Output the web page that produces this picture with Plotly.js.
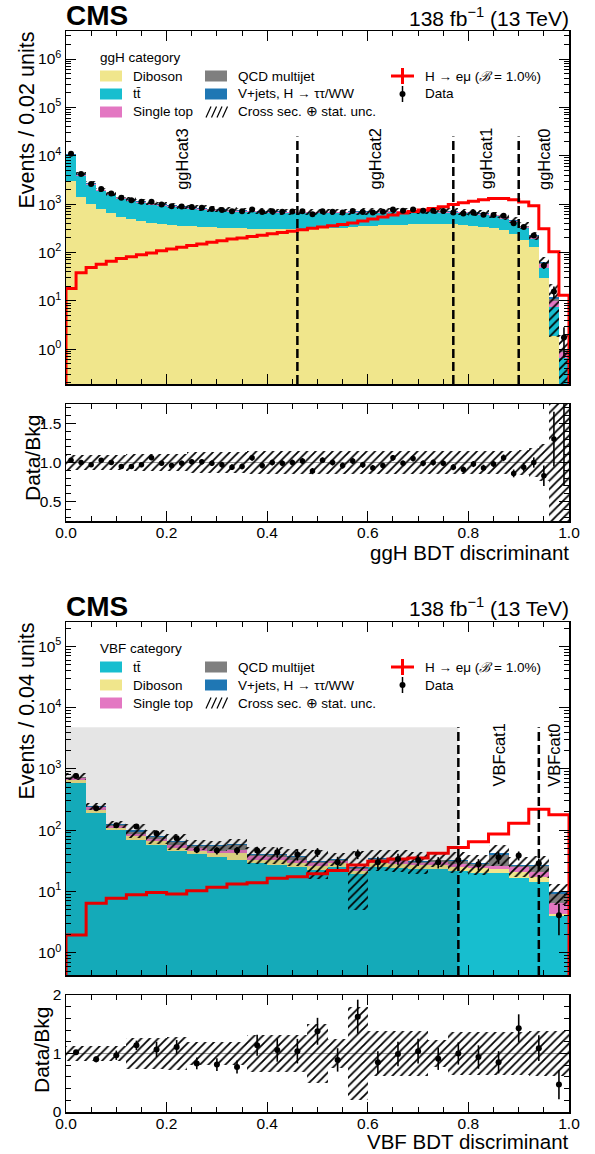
<!DOCTYPE html>
<html><head><meta charset="utf-8">
<script src="https://cdn.plot.ly/plotly-3.0.1.min.js"></script>
<style>html,body{margin:0;padding:0;background:#fff}#chart{width:595px;height:1154px}</style>
</head><body><div id="chart"></div>
<script>
// ---------------- ggH category (50 bins of 0.02) ----------------
const ggH_diboson = [3000,1420,985,780,640,550,490,450,415,395,375,360,350,340,332,326,320,316,313,310,308,307,306,306,310,314,320,327,335,345,355,362,370,378,385,388,390,387,380,372,360,342,320,290,240,180,128,29,1.9,0.05];
const ggH_ttbar = [6900,2450,1495,1056,875,754,667,607,559,515,488,467,440,423,404,391,379,369,359,353,347,341,338,334,330,326,320,317,314,309,306,306,303,299,292,289,282,280,278,272,265,255,240,208,187,141,65,19,5.5,0.6];
const ggH_singletop = [430,180,120,90,75,65,58,52,48,45,43,41,39,38,36,35,34,34,33,32,32,32,31,31,31,31,31,31,31,31,32,32,32,32,32,32,32,32,31,31,30,29,28,26,24,22,18,9,2.6,0.24];
const ggH_qcd = [110,45,30,22,18,15,13,12,11,10,10,9,9,8,8,8,8,7,7,7,7,7,7,7,7,7,7,7,7,7,7,7,7,7,7,7,7,7,7,7,7,7,6,6,5,5,4,3,0.8,0.05];
const ggH_vjets = [260,105,70,52,42,36,32,29,27,25,24,23,22,21,20,20,19,19,18,18,18,18,18,17,17,17,17,18,18,18,18,18,18,19,19,19,19,19,19,18,18,17,16,15,14,12,10,5,1.2,0.06];
const ggH_data = [11020,4200,2620,2060,1650,1350,1200,1115,1125,980,900,890,870,840,790,757,715,708,774,691,712,698,700,709,619,716,695,672,719,689,668,696,774,728,772,728,730,718,672,637,666,605,598,578,404,338,225,54,15.6,1.75];
const ggH_signal = [18,38,49,57,66,75,82,90,98,108,118,128,139,150,163,174,189,200,213,228,244,259,276,295,315,335,355,380,405,445,490,540,595,655,705,760,815,885,985,1070,1150,1230,1300,1310,1230,1100,925,310,103,13];
const ggH_unc = [0.09,0.09,0.09,0.09,0.09,0.09,0.11,0.11,0.11,0.11,0.11,0.11,0.13,0.13,0.13,0.13,0.13,0.13,0.145,0.145,0.145,0.145,0.145,0.145,0.145,0.145,0.145,0.145,0.145,0.145,0.145,0.145,0.145,0.145,0.145,0.145,0.145,0.145,0.145,0.145,0.145,0.145,0.145,0.145,0.15,0.16,0.18,0.24,0.85,0.95];
const ggH_ratio = [1.03,1.00,0.97,1.03,1.00,0.95,0.95,0.97,1.06,0.99,0.96,0.99,1.01,1.01,0.99,0.97,0.94,0.95,1.06,0.96,1.00,0.99,1.00,1.02,0.89,1.03,1.00,0.96,1.02,0.97,0.93,0.96,1.06,0.99,1.05,0.99,1.00,0.99,0.94,0.91,0.98,0.93,0.98,1.06,0.86,0.94,1.00,0.83,1.30,1.85];
const ggH_ratioErr = [0.01,0.016,0.02,0.022,0.025,0.027,0.029,0.03,0.03,0.032,0.033,0.034,0.034,0.035,0.036,0.036,0.037,0.037,0.036,0.038,0.037,0.038,0.038,0.038,0.04,0.037,0.038,0.039,0.037,0.038,0.039,0.038,0.036,0.037,0.036,0.037,0.037,0.037,0.039,0.04,0.039,0.041,0.041,0.043,0.05,0.055,0.066,0.13,0.35,1.15];
const ggH_boundaries = [0.46,0.77,0.90];
const ggH_catLabels = ['ggHcat3','ggHcat2','ggHcat1','ggHcat0'];

// ---------------- VBF category (25 bins of 0.04) ----------------
const VBF_ttbar = [580,189,99,70,57,46,41,36,33,28.6,27.5,25,22,25,19,25,24.5,23,23,21.5,20,20,16.5,14.5,3.9];
const VBF_diboson = [80,26,9,9,9,5,5,6.5,9.5,4.4,5,3.6,4,4,2.5,4,4,4,4.5,4,4,3.5,4.5,3,0.3];
const VBF_singletop = [60,20,10,8,7,7,5,4,5.5,4.6,4,3.4,3,2.5,2,2.5,3,2.5,2.5,3,2.5,2.5,4.5,3.5,2.2];
const VBF_qcd = [10,5,3,8,5,7,5,8,10,2,3,4,1.5,1.5,1,2.5,1.5,1,2,2.5,1.5,14,1,5.5,2.8];
const VBF_vjets = [20,10,3,5,2,2,2,2.5,2,1.4,1.5,2,1,1,0.5,1,1,1,1,1,1,2,0.5,0.5,0.5];
const VBF_data = [767,228,120,115,88,74,48,46.5,46.5,46.5,43.6,40,43.7,30,41,30,34,32.7,30,32.7,27.8,36,38.5,28.8,4.1];
const VBF_signal = [1.95,6.4,7.7,8.8,9.6,9.1,10.3,11.7,13.2,13.9,16.4,17.4,19.5,22,27,31,34,35,42,52,65,87,130,220,178];
const VBF_unc = [0.13,0.13,0.13,0.26,0.26,0.29,0.19,0.19,0.19,0.31,0.31,0.31,0.5,0.24,0.8,0.38,0.38,0.38,0.23,0.37,0.37,0.37,0.37,0.38,0.38];
const VBF_ratio = [1.02,0.90,0.97,1.14,1.07,1.11,0.83,0.81,0.77,1.14,1.06,1.04,1.38,0.89,1.63,0.85,0.99,1.04,0.91,1.00,0.94,0.85,1.43,1.09,0.47];
const VBF_ratioErr = [0.04,0.05,0.08,0.08,0.13,0.12,0.1,0.11,0.11,0.18,0.2,0.21,0.23,0.2,0.29,0.19,0.21,0.21,0.19,0.19,0.2,0.19,0.24,0.22,0.25];
const VBF_boundaries = [0.78,0.94];
const VBF_catLabels = ['VBFcat1','VBFcat0'];

// ---------------- helpers ----------------
const W = 595, H = 1154;
const FONT = 'Liberation Sans, Arial, Helvetica, sans-serif';
const C = {diboson:'#F0E68C', ttbar:'#17BECF', singletop:'#E377C2', qcd:'#7F7F7F', vjets:'#1F77B4'};
const px = x => x / W;
const py = y => 1 - y / H;
const centers = (n, w) => Array.from({length:n}, (_, i) => +(w * (i + 0.5)).toFixed(4));
const lows = (n, w) => Array.from({length:n}, (_, i) => +(w * i).toFixed(4));
const sum = (...a) => a[0].map((_, i) => a.reduce((s, arr) => s + arr[i], 0));

const traces = [];
const shapes = [];
const annotations = [];

function stack(xa, ya, xs, w, layersBottomFirst) {
  const cums = [];
  let run = null;
  layersBottomFirst.forEach(l => { run = run ? sum(run, l.v) : l.v.slice(); cums.push({y: run.slice(), color: l.color}); });
  for (let k = cums.length - 1; k >= 0; k--) {
    traces.push({type:'bar', x:xs, y:cums[k].y, width:w, xaxis:xa, yaxis:ya,
      marker:{color:cums[k].color, line:{width:0}}, hoverinfo:'skip'});
  }
  return run;
}
function hatch(xa, ya, xs, w, center, unc) {
  traces.push({type:'bar', x:xs, width:w, xaxis:xa, yaxis:ya,
    base:center.map((c, i) => c * (1 - unc[i])), y:center.map((c, i) => 2 * c * unc[i]),
    marker:{color:'rgba(0,0,0,0)', line:{width:0},
      pattern:{shape:'/', fgcolor:'#000', fgopacity:1, bgcolor:'rgba(0,0,0,0)', size:6, solidity:0.3, fillmode:'overlay'}},
    hoverinfo:'skip'});
}
function signal(xa, ya, n, w, vals, floor) {
  const lo = lows(n, w);
  const xs = [lo[0]].concat(lo, [+(lo[n - 1] + w).toFixed(4)]);
  const ys = [floor].concat(vals, [floor]);
  traces.push({type:'scatter', mode:'lines', x:xs, y:ys, xaxis:xa, yaxis:ya,
    line:{color:'#FF0000', width:3, shape:'hv'}, hoverinfo:'skip'});
}
function points(xa, ya, xs, ys, err, size) {
  traces.push({type:'scatter', mode:'markers', x:xs, y:ys, xaxis:xa, yaxis:ya,
    marker:{color:'#000', size:size},
    error_y:{type:'data', array:err, visible:true, color:'#000', thickness:1.6, width:0}, hoverinfo:'skip'});
}

// ---------------- panel 1 ----------------
const n1 = 50, w1 = 0.02, x1 = centers(n1, w1);
const Y1 = [-0.72, 6.58];
const tot1 = stack('x', 'y', x1, w1, [
  {v:ggH_diboson, color:C.diboson}, {v:ggH_ttbar, color:C.ttbar}, {v:ggH_singletop, color:C.singletop},
  {v:ggH_qcd, color:C.qcd}, {v:ggH_vjets, color:C.vjets}]);
hatch('x', 'y', x1, w1, tot1, ggH_unc);
signal('x', 'y', n1, w1, ggH_signal, Math.pow(10, Y1[0] - 1));
points('x', 'y', x1, ggH_data, ggH_data.map((d, i) => d * ggH_ratioErr[i] / ggH_ratio[i]), 6);
hatch('x2', 'y2', x1, w1, x1.map(() => 1), ggH_unc);
points('x2', 'y2', x1, ggH_ratio, ggH_ratioErr, 5.5);

// ---------------- panel 2 ----------------
const n2 = 25, w2 = 0.04, x2 = centers(n2, w2);
const Y3 = [-0.365, 5.40];
const tot2 = stack('x3', 'y3', x2, w2, [
  {v:VBF_ttbar, color:C.ttbar}, {v:VBF_diboson, color:C.diboson}, {v:VBF_singletop, color:C.singletop},
  {v:VBF_qcd, color:C.qcd}, {v:VBF_vjets, color:C.vjets}]);
hatch('x3', 'y3', x2, w2, tot2, VBF_unc);
signal('x3', 'y3', n2, w2, VBF_signal, Math.pow(10, Y3[0] - 1));
points('x3', 'y3', x2, VBF_data, VBF_data.map((d, i) => d * VBF_ratioErr[i] / VBF_ratio[i]), 6);
hatch('x4', 'y4', x2, w2, x2.map(() => 1), VBF_unc);
points('x4', 'y4', x2, VBF_ratio, VBF_ratioErr, 6);

// ---------------- decorations ----------------
shapes.push({type:'rect', xref:'x3', yref:'y3', x0:0, x1:VBF_boundaries[0], y0:Math.pow(10, Y3[0]), y1:4800,
  fillcolor:'rgba(0,0,0,0.1)', line:{width:0}, layer:'above'});
ggH_boundaries.forEach(b => shapes.push({type:'line', xref:'x', yref:'y', x0:b, x1:b, y0:Math.pow(10, Y1[0]), y1:25000,
  line:{color:'#000', width:2.5, dash:'9px,4px'}, layer:'above'}));
VBF_boundaries.forEach(b => shapes.push({type:'line', xref:'x3', yref:'y3', x0:b, x1:b, y0:Math.pow(10, Y3[0]), y1:4800,
  line:{color:'#000', width:2.5, dash:'9px,4px'}, layer:'above'}));
[['x2','y2'],['x4','y4']].forEach(([xa, ya]) => shapes.push({type:'line', xref:xa, yref:ya, x0:0, x1:1, y0:1, y1:1,
  line:{color:'#999', width:1}, layer:'below'}));

const edges1 = [0].concat(ggH_boundaries, [1]);
ggH_catLabels.forEach((t, i) => annotations.push({xref:'x', yref:'y', x:(edges1[i] + edges1[i + 1]) / 2, y:3.93,
  text:t, textangle:-90, showarrow:false, font:{family:FONT, size:16.5, color:'#000'}, xanchor:'center', yanchor:'middle'}));
const edges2 = VBF_boundaries.concat([1]);
VBF_catLabels.forEach((t, i) => annotations.push({xref:'x3', yref:'y3', x:(edges2[i] + edges2[i + 1]) / 2, y:3.23,
  text:t, textangle:-90, showarrow:false, font:{family:FONT, size:16.5, color:'#000'}, xanchor:'center', yanchor:'middle'}));

function txt(t, x, y, size, xanchor, yanchor, angle) {
  annotations.push({xref:'paper', yref:'paper', x:px(x), y:py(y), text:t, showarrow:false,
    font:{family:FONT, size:size, color:'#000'}, xanchor:xanchor || 'left', yanchor:yanchor || 'middle',
    textangle:angle || 0, borderpad:0});
}
function rectPx(x0, y0, x1, y1, color) {
  shapes.push({type:'rect', xref:'paper', yref:'paper', x0:px(x0), x1:px(x1), y0:py(y1), y1:py(y0),
    fillcolor:color, line:{width:0}});
}
function linePx(x0, y0, x1, y1, color, width) {
  shapes.push({type:'line', xref:'paper', yref:'paper', x0:px(x0), x1:px(x1), y0:py(y0), y1:py(y1),
    line:{color:color, width:width}});
}
function legendBlock(top, header, col1) {
  const hy = top + 26, r = [top + 45, top + 63, top + 81];
  const LF = 13.5;
  txt(header, 99, hy, LF);
  col1.forEach((e, i) => { rectPx(100, r[i] - 5.5, 122, r[i] + 5.5, e.color); txt(e.label, 132, r[i], LF); });
  rectPx(205, r[0] - 5.5, 227, r[0] + 5.5, C.qcd); txt('QCD multijet', 237, r[0], LF);
  rectPx(205, r[1] - 5.5, 227, r[1] + 5.5, C.vjets); txt('V+jets, H \u2192 \u03C4\u03C4/WW', 237, r[1], LF);
  for (let k = 0; k < 4; k++) linePx(206 + k * 5.5, r[2] + 5.5, 211 + k * 5.5, r[2] - 5.5, '#000', 1.2);
  txt('Cross sec. \u2295 stat. unc.', 237, r[2], LF);
  linePx(391, r[0], 414, r[0], '#FF0000', 3); linePx(402.5, r[0] - 8, 402.5, r[0] + 8, '#FF0000', 3);
  txt('H \u2192 e\u03BC (<i>\u212C</i> = 1.0%)', 424, r[0], LF);
  shapes.push({type:'circle', xref:'paper', yref:'paper', x0:px(399.5), x1:px(405.5), y0:py(r[1] + 3), y1:py(r[1] - 3),
    fillcolor:'#000', line:{width:0}});
  linePx(402.5, r[1] - 8, 402.5, r[1] + 8, '#000', 1.5);
  txt('Data', 424, r[1], LF);
}
legendBlock(31, 'ggH category', [
  {label:'Diboson', color:C.diboson}, {label:'t\u0074\u0304', color:C.ttbar}, {label:'Single top', color:C.singletop}]);
legendBlock(622, 'VBF category', [
  {label:'t\u0074\u0304', color:C.ttbar}, {label:'Diboson', color:C.diboson}, {label:'Single top', color:C.singletop}]);

txt('<b>CMS</b>', 65, 16, 28, 'left', 'middle');
txt('138 fb<sup>\u22121</sup> (13 TeV)', 570, 17, 21, 'right', 'middle');
txt('<b>CMS</b>', 65, 606, 28, 'left', 'middle');
txt('138 fb<sup>\u22121</sup> (13 TeV)', 570, 607, 21, 'right', 'middle');
txt('Events / 0.02 units', 26, 31, 21.5, 'center', 'top', -90);
txt('Data/Bkg', 32, 458, 21, 'center', 'middle', -90);
txt('ggH BDT discriminant', 570, 552, 20.5, 'right', 'middle');
txt('Events / 0.04 units', 26, 622, 21.5, 'center', 'top', -90);
txt('Data/Bkg', 41, 1050, 21, 'center', 'middle', -90);
txt('VBF BDT discriminant', 570, 1141, 20.5, 'right', 'middle');

// ---------------- axes ----------------
const minorStyle = {ticks:'inside', ticklen:5, tickwidth:1, tickcolor:'#000', showgrid:false};
const base = {showline:true, linecolor:'#000', linewidth:1.5, mirror:'ticks', ticks:'inside', ticklen:10,
  tickwidth:1, tickcolor:'#000', showgrid:false, zeroline:false, tickfont:{family:FONT, size:15.5, color:'#000'}};
const xdom = [px(66), px(569)];
const xax = (anchor, labels) => Object.assign({}, base, {domain:xdom, range:[0, 1], anchor:anchor, tickmode:'linear',
  tick0:0, dtick:0.2, tickformat:'.1f', showticklabels:labels, ticklabelstandoff:-3,
  minor:Object.assign({dtick:0.05}, minorStyle)});
const powLabels = k => Array.from({length:k + 1}, (_, i) => '10<sup>' + i + '</sup>');
const powVals = k => Array.from({length:k + 1}, (_, i) => Math.pow(10, i));

const layout = {
  width:W, height:H, margin:{l:0, r:0, t:0, b:0}, showlegend:false,
  paper_bgcolor:'#fff', plot_bgcolor:'#fff', barmode:'overlay', bargap:0,
  xaxis:xax('y', false),
  yaxis:Object.assign({}, base, {type:'log', range:Y1, domain:[py(384), py(31)], anchor:'x',
    tickmode:'array', tickvals:powVals(6), ticktext:powLabels(6), minor:Object.assign({dtick:'D1'}, minorStyle)}),
  xaxis2:xax('y2', true),
  yaxis2:Object.assign({}, base, {range:[0.25, 1.75], domain:[py(521), py(404)], anchor:'x2',
    tickmode:'linear', tick0:0, dtick:0.5, tickformat:'.1f', minor:Object.assign({dtick:0.1}, minorStyle)}),
  xaxis3:xax('y3', false),
  yaxis3:Object.assign({}, base, {type:'log', range:Y3, domain:[py(975), py(622)], anchor:'x3',
    tickmode:'array', tickvals:powVals(5), ticktext:powLabels(5), minor:Object.assign({dtick:'D1'}, minorStyle)}),
  xaxis4:xax('y4', true),
  yaxis4:Object.assign({}, base, {range:[0, 2], domain:[py(1112), py(995)], anchor:'x4',
    tickmode:'linear', tick0:0, dtick:1, minor:Object.assign({dtick:0.2}, minorStyle)}),
  shapes:shapes, annotations:annotations
};
Plotly.newPlot('chart', traces, layout, {displayModeBar:false, staticPlot:true});
</script></body></html>
